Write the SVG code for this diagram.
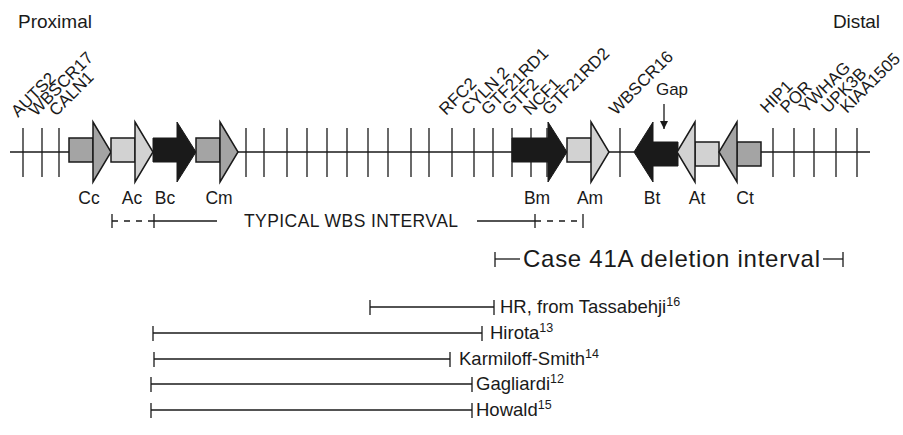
<svg xmlns="http://www.w3.org/2000/svg" width="903" height="435" viewBox="0 0 903 435">
<style>
text{font-family:"Liberation Sans",Arial,sans-serif;fill:#1a1a1a}
.gene{font-size:17px}
.lab{font-size:17.5px;text-anchor:middle}
.ln{stroke:#1a1a1a;stroke-width:1.3;fill:none}
.tk{stroke:#1a1a1a;stroke-width:1.3}
.dash{stroke:#1a1a1a;stroke-width:1.3;stroke-dasharray:6 6}
.mid{fill:#a4a4a4;stroke:#1a1a1a;stroke-width:1.5;stroke-linejoin:miter}
.lt{fill:#d2d2d2;stroke:#1a1a1a;stroke-width:1.5}
.blk{fill:#1a1a1a;stroke:#1a1a1a;stroke-width:1}
.ref{font-size:18.5px}
.sup{font-size:12.5px}
</style>
<defs>
<marker id="ah" markerWidth="10" markerHeight="10" refX="8" refY="5" orient="auto" markerUnits="userSpaceOnUse">
<path d="M0,1 L8,5 L0,9 Z" fill="#1a1a1a"/>
</marker>
</defs>

<text x="18" y="28" font-size="19" textLength="74">Proximal</text>
<text x="833" y="28" font-size="19" textLength="47">Distal</text>

<g id="chromosome">
<line class="ln" x1="10" y1="152" x2="870" y2="152"/>
<g id="ticks">
<line class="tk" x1="23" y1="128" x2="23" y2="177"/>
<line class="tk" x1="42" y1="128" x2="42" y2="177"/>
<line class="tk" x1="59" y1="128" x2="59" y2="177"/>
<line class="tk" x1="246" y1="128" x2="246" y2="177"/>
<line class="tk" x1="264" y1="128" x2="264" y2="177"/>
<line class="tk" x1="287" y1="128" x2="287" y2="177"/>
<line class="tk" x1="307" y1="128" x2="307" y2="177"/>
<line class="tk" x1="327" y1="128" x2="327" y2="177"/>
<line class="tk" x1="347" y1="128" x2="347" y2="177"/>
<line class="tk" x1="368" y1="128" x2="368" y2="177"/>
<line class="tk" x1="388" y1="128" x2="388" y2="177"/>
<line class="tk" x1="411" y1="128" x2="411" y2="177"/>
<line class="tk" x1="429" y1="128" x2="429" y2="177"/>
<line class="tk" x1="452" y1="128" x2="452" y2="177"/>
<line class="tk" x1="474" y1="128" x2="474" y2="177"/>
<line class="tk" x1="493" y1="128" x2="493" y2="177"/>
<line class="tk" x1="512" y1="128" x2="512" y2="177"/>
<line class="tk" x1="531" y1="128" x2="531" y2="177"/>
<line class="tk" x1="547" y1="128" x2="547" y2="177"/>
<line class="tk" x1="620" y1="128" x2="620" y2="177"/>
<line class="tk" x1="773" y1="128" x2="773" y2="177"/>
<line class="tk" x1="794" y1="128" x2="794" y2="177"/>
<line class="tk" x1="814" y1="128" x2="814" y2="177"/>
<line class="tk" x1="836" y1="128" x2="836" y2="177"/>
<line class="tk" x1="857" y1="128" x2="857" y2="177"/>
</g>
</g>

<g id="gene-labels">
<text class="gene" transform="translate(18,118) rotate(-45)">AUTS2</text>
<text class="gene" transform="translate(36,117) rotate(-45)">WBSCR17</text>
<text class="gene" transform="translate(56,117) rotate(-45)">CALN1</text>
<text class="gene" transform="translate(446,116) rotate(-45)">RFC2</text>
<text class="gene" transform="translate(468,116) rotate(-45)">CYLN 2</text>
<text class="gene" transform="translate(488,116) rotate(-45)">GTF21RD1</text>
<text class="gene" transform="translate(509,116) rotate(-45)">GTF2</text>
<text class="gene" transform="translate(530,116) rotate(-45)">NCF1</text>
<text class="gene" transform="translate(549,116) rotate(-45)">GTF21RD2</text>
<text class="gene" transform="translate(616,116) rotate(-45)">WBSCR16</text>
<text class="gene" transform="translate(767,114) rotate(-45)">HIP1</text>
<text class="gene" transform="translate(787,114) rotate(-45)">POR</text>
<text class="gene" transform="translate(806,114) rotate(-45)">YWHAG</text>
<text class="gene" transform="translate(828,114) rotate(-45)">UPK3B</text>
<text class="gene" transform="translate(847,114) rotate(-45)">KIAA1505</text>
</g>

<g id="Cc"><rect class="mid" x="69" y="138" width="24" height="24"/><polygon class="mid" points="93,122 111,152 93,182"/></g>
<g id="Ac"><rect class="lt" x="111" y="138" width="24" height="24"/><polygon class="lt" points="135,122 153,152 135,182"/></g>
<g id="Bc"><polygon class="blk" points="153,138 177,138 177,122 196,152 177,182 177,162 153,162"/></g>
<g id="Cm"><rect class="mid" x="196" y="138" width="24" height="24"/><polygon class="mid" points="220,122 238,152 220,182"/></g>
<g id="Bm"><polygon class="blk" points="512,138 548,138 548,122 567,152 548,182 548,162 512,162"/></g>
<g id="Am"><rect class="lt" x="567" y="138" width="24" height="24"/><polygon class="lt" points="591,122 609,152 591,182"/></g>
<g id="Bt"><polygon class="blk" points="678,142 653,142 653,122 634,152 653,182 653,166 678,166"/></g>
<g id="At"><rect class="lt" x="695" y="142" width="24" height="24"/><polygon class="lt" points="695,122 677,152 695,182"/></g>
<g id="Ct"><rect class="mid" x="737" y="142" width="24" height="24"/><polygon class="mid" points="737,122 719,152 737,182"/></g>

<g id="gap">
<text x="672" y="95" font-size="17" text-anchor="middle">Gap</text>
<line class="ln" x1="664" y1="104" x2="664" y2="129" marker-end="url(#ah)"/>
</g>

<g id="repeat-labels">
<text class="lab" x="89" y="204">Cc</text>
<text class="lab" x="132" y="204">Ac</text>
<text class="lab" x="165" y="204">Bc</text>
<text class="lab" x="219" y="204">Cm</text>
<text class="lab" x="537" y="204">Bm</text>
<text class="lab" x="590" y="204">Am</text>
<text class="lab" x="652" y="204">Bt</text>
<text class="lab" x="697" y="204">At</text>
<text class="lab" x="745" y="204">Ct</text>
</g>

<g id="connectors">
<g id="typical-wbs">
<line class="tk" x1="112" y1="214" x2="112" y2="228"/>
<line class="dash" x1="112" y1="221" x2="154" y2="221"/>
<line class="tk" x1="154" y1="214" x2="154" y2="228"/>
<line class="ln" x1="154" y1="221" x2="217" y2="221"/>
<line class="ln" x1="477" y1="221" x2="535" y2="221"/>
<line class="tk" x1="535" y1="214" x2="535" y2="228"/>
<line class="dash" x1="535" y1="221" x2="583" y2="221"/>
<line class="tk" x1="583" y1="214" x2="583" y2="228"/>
</g>
<g id="case41a">
<line class="tk" x1="495" y1="252" x2="495" y2="267"/>
<line class="ln" x1="495" y1="259" x2="520" y2="259"/>
<line class="ln" x1="823" y1="259" x2="843" y2="259"/>
<line class="tk" x1="843" y1="252" x2="843" y2="267"/>
</g>
<g id="refs">
<line class="ln" x1="370" y1="307" x2="494" y2="307"/><line class="tk" x1="370" y1="300" x2="370" y2="315"/><line class="tk" x1="494" y1="300" x2="494" y2="315"/>
<line class="ln" x1="153" y1="333" x2="482" y2="333"/><line class="tk" x1="153" y1="326" x2="153" y2="341"/><line class="tk" x1="482" y1="326" x2="482" y2="341"/>
<line class="ln" x1="154" y1="359" x2="450" y2="359"/><line class="tk" x1="154" y1="352" x2="154" y2="367"/><line class="tk" x1="450" y1="352" x2="450" y2="367"/>
<line class="ln" x1="151" y1="384" x2="472" y2="384"/><line class="tk" x1="151" y1="377" x2="151" y2="392"/><line class="tk" x1="472" y1="377" x2="472" y2="392"/>
<line class="ln" x1="151" y1="410" x2="472" y2="410"/><line class="tk" x1="151" y1="403" x2="151" y2="418"/><line class="tk" x1="472" y1="403" x2="472" y2="418"/>
</g>
</g>

<text x="244" y="227" font-size="17.5" textLength="214">TYPICAL WBS INTERVAL</text>
<text x="523" y="267" font-size="24" textLength="297">Case 41A deletion interval</text>

<g id="ref-labels">
<text class="ref" x="500" y="313">HR, from Tassabehji<tspan class="sup" dy="-7">16</tspan></text>
<text class="ref" x="490" y="339">Hirota<tspan class="sup" dy="-7">13</tspan></text>
<text class="ref" x="459" y="365">Karmiloff-Smith<tspan class="sup" dy="-7">14</tspan></text>
<text class="ref" x="476" y="390">Gagliardi<tspan class="sup" dy="-7">12</tspan></text>
<text class="ref" x="476" y="416">Howald<tspan class="sup" dy="-7">15</tspan></text>
</g>
</svg>
